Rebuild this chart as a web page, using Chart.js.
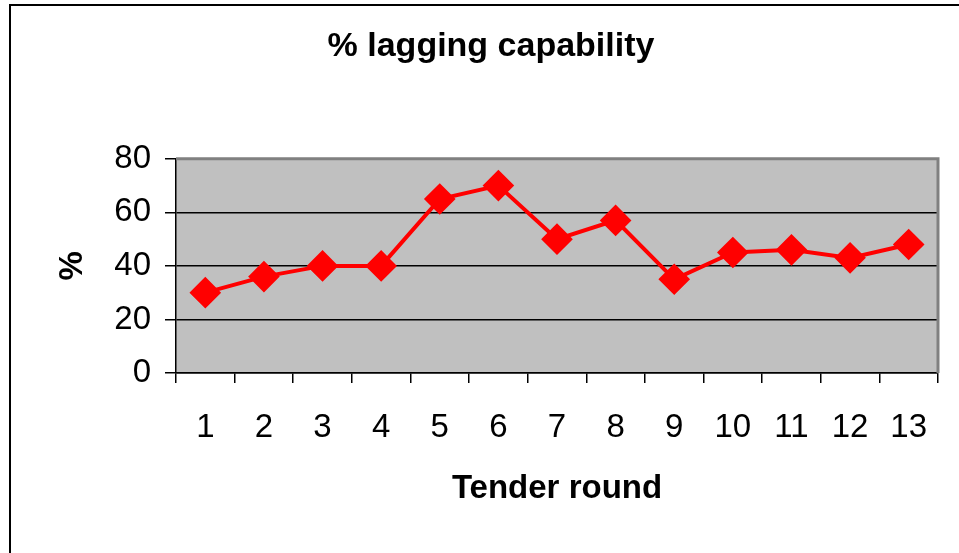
<!DOCTYPE html>
<html>
<head>
<meta charset="utf-8">
<script src="https://cdn.jsdelivr.net/npm/chart.js@4/dist/chart.umd.min.js"></script>
<style>
    html, body { margin: 0; padding: 0; background: #fff; }
    #wrap { width: 959px; height: 553px; position: relative; }
</style>
</head>
<body>
<div id="wrap"><canvas id="laggingChart"></canvas></div>
<script>
const rounds = ['1', '2', '3', '4', '5', '6', '7', '8', '9', '10', '11', '12', '13'];
const laggingPct = [30, 36, 40, 40, 65, 70, 50, 57, 35, 45, 46, 43, 48];
const yTicks = [0, 20, 40, 60, 80];

const FONT = 'Arial, "Liberation Sans", sans-serif';

// grey plot area, grey top/right edge and the outer frame
const plotBg = {
    id: 'plotBg',
    beforeDraw(chart) {
        const { ctx, chartArea: a } = chart;
        ctx.save();
        ctx.fillStyle = '#fff';
        ctx.fillRect(0, 0, chart.width, chart.height);
        ctx.strokeStyle = '#000';
        ctx.lineWidth = 2;
        ctx.beginPath();
        ctx.moveTo(10, chart.height);
        ctx.lineTo(10, 5);
        ctx.lineTo(chart.width, 5);
        ctx.stroke();
        ctx.fillStyle = '#C0C0C0';
        ctx.fillRect(a.left, a.top, a.right - a.left, a.bottom - a.top);
        ctx.restore();
    },
    beforeDatasetsDraw(chart) {
        const { ctx, chartArea: a } = chart;
        ctx.save();
        ctx.strokeStyle = '#808080';
        ctx.lineWidth = 3;
        ctx.beginPath();
        ctx.moveTo(a.left, a.top);
        ctx.lineTo(a.right, a.top);
        ctx.lineTo(a.right, a.bottom);
        ctx.stroke();
        ctx.restore();
    }
};

new Chart(document.getElementById('laggingChart'), {
    type: 'line',
    data: {
        labels: rounds,
        datasets: [{
            label: '% lagging capability',
            data: laggingPct,
            borderColor: '#FF0000',
            backgroundColor: '#FF0000',
            borderWidth: 4,
            pointStyle: 'rectRot',
            pointRadius: 13,
            pointHoverRadius: 13,
            pointBackgroundColor: '#FF0000',
            pointBorderColor: '#FF0000',
            tension: 0
        }]
    },
    options: {
        responsive: true,
        maintainAspectRatio: false,
        animation: false,
        layout: { padding: { left: 44, right: 21, top: 0, bottom: 0 } },
        scales: {
            x: {
                offset: true,
                afterFit: (s) => { s.height = 180; },
                grid: {
                    offset: true,
                    drawOnChartArea: false,
                    color: '#000',
                    tickColor: '#000',
                    tickLength: 10,
                    lineWidth: 1.5
                },
                border: { color: '#000', width: 1.5 },
                ticks: {
                    color: '#000',
                    padding: 25,
                    maxRotation: 0,
                    autoSkip: false,
                    font: { family: FONT, size: 33 }
                },
                title: {
                    display: true,
                    text: 'Tender round',
                    color: '#000',
                    font: { family: FONT, size: 33, weight: 'bold' },
                    padding: { top: 0, bottom: 44 }
                }
            },
            y: {
                min: 0,
                max: 80,
                afterFit: (s) => { s.width = 132; },
                afterBuildTicks: (s) => { s.ticks = yTicks.map(v => ({ value: v })); },
                grid: {
                    color: (c) => c.tick && c.tick.value === 80 ? '#808080' : '#000',
                    tickColor: '#000',
                    tickLength: 11,
                    lineWidth: 1.5
                },
                border: { color: '#000', width: 1.5 },
                ticks: {
                    color: '#000',
                    padding: 14,
                    font: { family: FONT, size: 33 }
                },
                title: {
                    display: true,
                    text: '%',
                    color: '#000',
                    font: { family: FONT, size: 33, weight: 'bold' },
                    padding: { top: 9, bottom: 0 }
                }
            }
        },
        plugins: {
            legend: { display: false },
            tooltip: { enabled: false },
            title: {
                display: true,
                text: '% lagging capability',
                color: '#000',
                font: { family: FONT, size: 34, weight: 'bold' },
                padding: { top: 26, bottom: 92 }
            }
        }
    },
    plugins: [plotBg]
});
</script>
</body>
</html>
